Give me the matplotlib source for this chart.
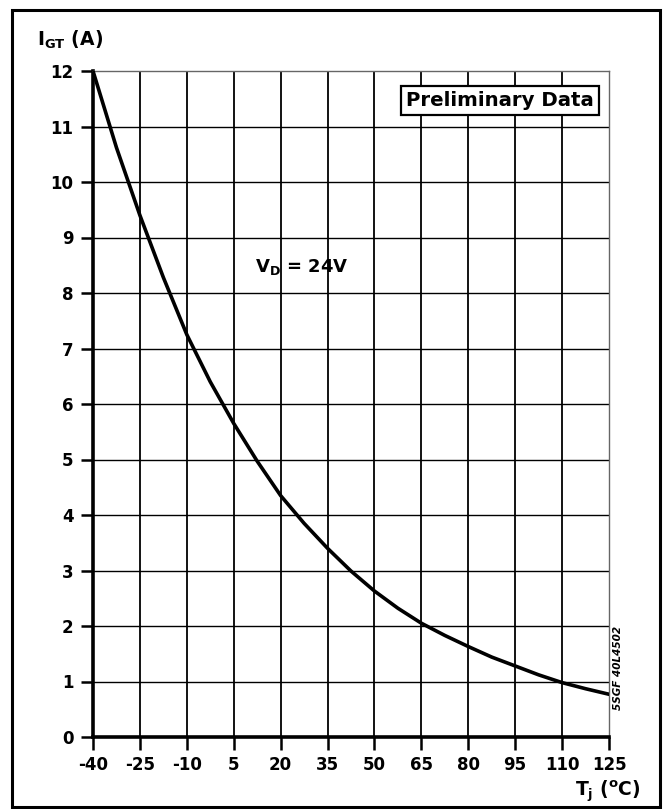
import numpy as np
import matplotlib
matplotlib.use('Agg')
from matplotlib import pyplot as plt
from matplotlib.patches import Rectangle

# junction temperature (degC) and gate trigger current (A)
tj = [-40, -32.5, -25, -17.5, -10, -2.5, 5, 12.5, 20, 27.5, 35, 42.5,
      50, 57.5, 65, 72.5, 80, 87.5, 95, 102.5, 110, 117.5, 125]
igt = [12.0, 10.62, 9.4, 8.28, 7.25, 6.4, 5.65, 4.97, 4.35, 3.85, 3.4, 2.99,
       2.63, 2.32, 2.05, 1.83, 1.63, 1.44, 1.28, 1.12, 0.98, 0.87, 0.77]

x_ticks = [-40, -25, -10, 5, 20, 35, 50, 65, 80, 95, 110, 125]
y_ticks = list(range(0, 13))

W, H = 665, 809

plt.rcParams['font.family'] = ['DejaVu Sans']
plt.rcParams['mathtext.fontset'] = 'dejavusans'


def fx(px):
    return px / W


def fy(py):
    return 1 - py / H


fig = plt.figure(figsize=(W / 100, H / 100), dpi=100)
ax = fig.add_axes([fx(93), fy(737), (609 - 93) / W, (737 - 71) / H])

ax.plot(tj, igt, color='black', lw=2.6, solid_joinstyle='round', zorder=3)

ax.set_xlim(-40, 125)
ax.set_ylim(0, 12)
ax.set_xticks(x_ticks)
ax.set_yticks(y_ticks)
ax.set_xticklabels([str(v) for v in x_ticks], fontsize=12, fontweight='bold')
ax.set_yticklabels([str(v) for v in y_ticks], fontsize=12, fontweight='bold')
ax.tick_params(direction='out', length=9, width=1.8, pad=5)

for v in x_ticks[1:-1]:
    ax.axvline(v, color='black', lw=1.3, zorder=1)
for v in y_ticks[1:-1]:
    ax.axhline(v, color='black', lw=1.0, zorder=1)

ax.spines['left'].set_linewidth(2.6)
ax.spines['bottom'].set_linewidth(2.6)
ax.spines['top'].set_linewidth(1.0)
ax.spines['right'].set_linewidth(1.0)
ax.spines['top'].set_color('#666666')
ax.spines['right'].set_color('#666666')

# axis titles
fig.text(fx(37), fy(40), r'$\mathbf{I_{GT}}$ (A)', fontsize=13.5, fontweight='bold',
         ha='left', va='center')
fig.text(fx(641), fy(791), r'$\mathbf{T_{j}}$ ($\mathbf{^o}$C)', fontsize=13.5,
         fontweight='bold', ha='right', va='center')

# annotations
fig.text(fx(255), fy(267), r'$\mathbf{V_{D}}$ = 24V', fontsize=13, fontweight='bold',
         ha='left', va='center')
fig.text(fx(500), fy(100.5), 'Preliminary Data', fontsize=14.2, fontweight='bold',
         ha='center', va='center',
         bbox=dict(boxstyle='square,pad=0.25', fc='white', ec='black', lw=1.6))
fig.text(fx(618), fy(668), '5SGF 40L4502', fontsize=7.5, fontweight='bold',
         style='italic', rotation=90, ha='center', va='center')

# outer frame
fig.patches.append(Rectangle((fx(12), fy(807)), (660 - 12) / W, (807 - 10) / H,
                             transform=fig.transFigure, fill=False, ec='black', lw=2.2))

fig.savefig('out.png', dpi=100)
